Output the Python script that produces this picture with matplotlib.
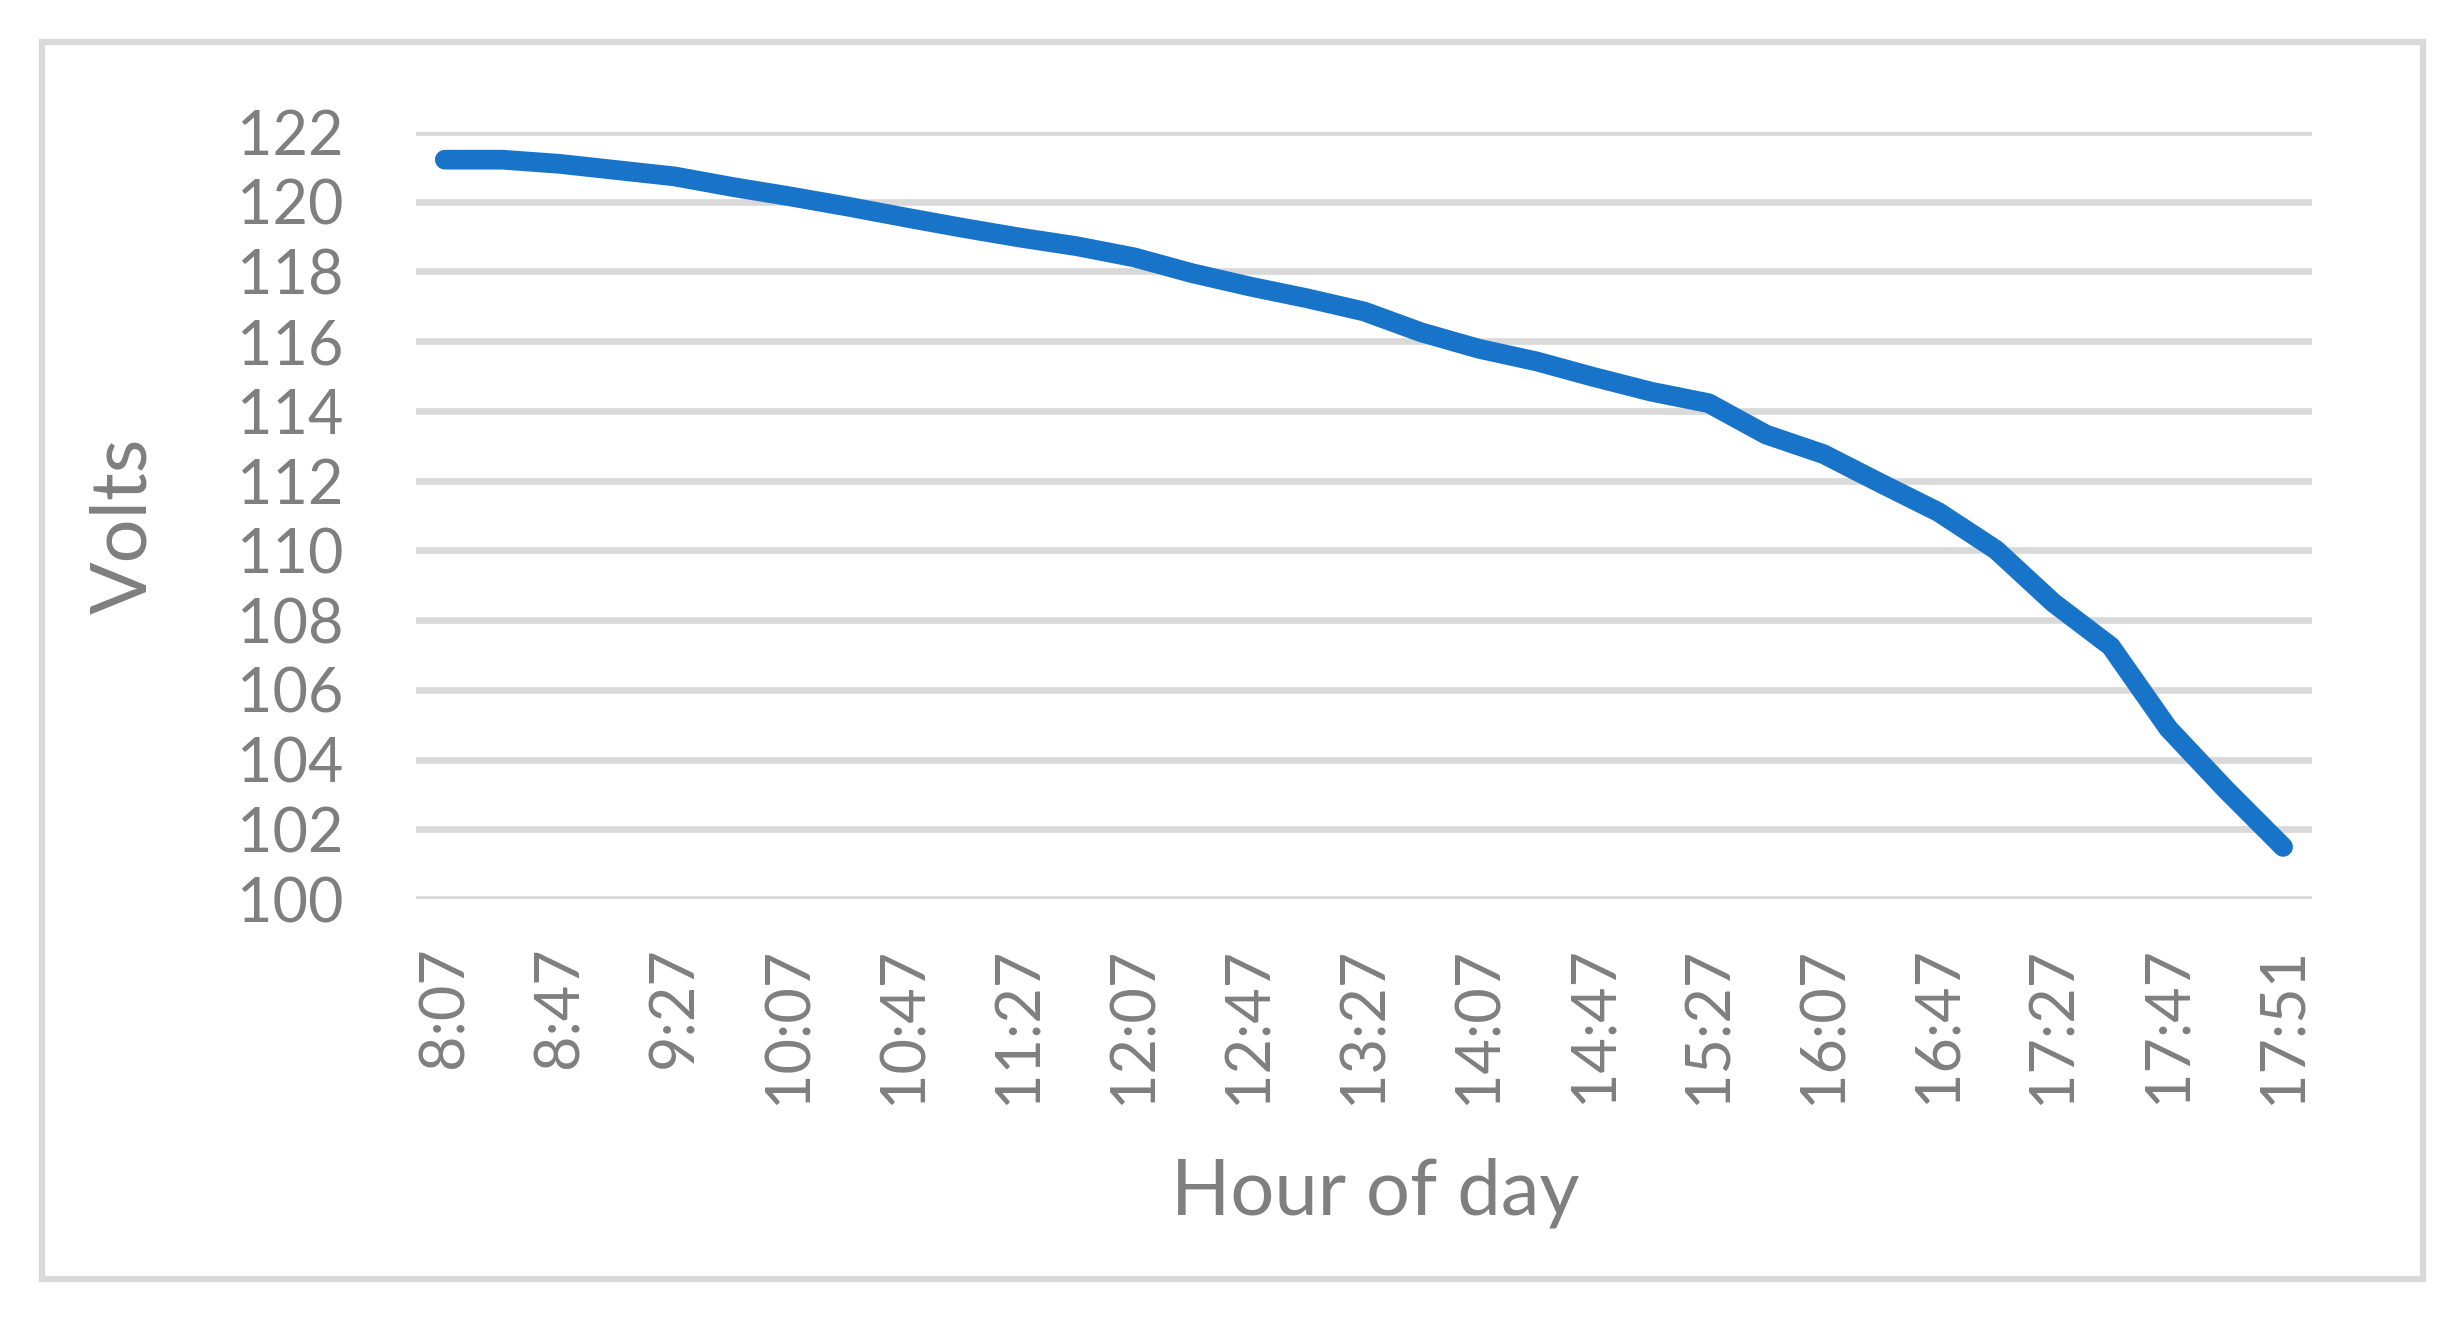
import matplotlib
matplotlib.use("Agg")
import matplotlib.pyplot as plt
from matplotlib.patches import Rectangle

# data
hours = ["8:07", "8:27", "8:47", "9:07", "9:27", "9:47", "10:07", "10:27",
         "10:47", "11:07", "11:27", "11:47", "12:07", "12:27", "12:47", "13:07",
         "13:27", "13:47", "14:07", "14:27", "14:47", "15:07", "15:27", "15:47",
         "16:07", "16:27", "16:47", "17:07", "17:27", "17:37", "17:47", "17:49",
         "17:51"]
volts = [121.2, 121.2, 121.08, 120.9, 120.72, 120.42, 120.15, 119.86,
         119.55, 119.25, 118.97, 118.72, 118.4, 117.95, 117.57, 117.23,
         116.85, 116.25, 115.78, 115.42, 114.97, 114.55, 114.22, 113.32,
         112.76, 111.92, 111.1, 110.02, 108.5, 107.25, 104.9, 103.15,
         101.5]
yticks = list(range(100, 123, 2))

txt = "#7f7f7f"
grid = "#d9d9d9"
blue = "#1874c8"

plt.rcParams['font.family'] = ['Lato', 'DejaVu Sans']

fig = plt.figure(figsize=(24.62, 13.23), dpi=100)
ax = fig.add_axes([0.169, 0.3203, 0.770, 0.5801])

x = list(range(len(hours)))
ax.plot(x, volts, color=blue, lw=14.2, solid_capstyle="round",
        solid_joinstyle="round", zorder=3)

ax.set_xlim(-0.5, len(hours) - 0.5)
ax.set_ylim(100, 122)
ax.set_yticks(yticks)
ax.set_yticklabels([str(v) for v in yticks])
ax.set_xticks(x[::2])
ax.set_xticklabels(hours[::2], rotation=90)

ax.grid(axis="y", color=grid, lw=4.8, zorder=0)
for s in ax.spines.values():
    s.set_visible(False)
ax.tick_params(axis="both", length=0, labelsize=44, colors=txt)
ax.tick_params(axis="y", pad=52)
ax.tick_params(axis="x", pad=34)

fig.text(0.5587, 0.0985, "Hour of day", color=txt, fontsize=56,
         ha="center", va="center")
fig.text(0.0505, 0.6026, "Volts", color=txt, fontsize=56, rotation=90,
         ha="center", va="center")

fig.patches.append(Rectangle((0.0172, 0.0332), 0.9668, 0.9348,
                             transform=fig.transFigure, fill=False,
                             edgecolor=grid, lw=4.5))

fig.savefig("out.png", dpi=100)
